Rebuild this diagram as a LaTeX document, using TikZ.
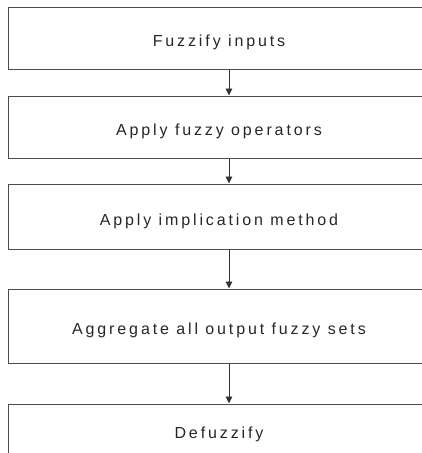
\documentclass[tikz,border=0pt]{standalone}
\usepackage{fontspec}
\setmainfont{Liberation Sans}[LetterSpace=18]
\usepackage{tikz}
\usetikzlibrary{positioning, arrows.meta}

\tikzset{
  stage/.style={draw=black!70, line width=1pt, inner sep=0pt,
    minimum width=422pt, text height=17pt, text depth=0pt,
    font=\fontsize{16}{19}\selectfont, text=black!85},
  flow/.style={-{Triangle[width=6.5pt,length=7pt]}, line width=0.9pt, draw=black!80}
}

\begin{document}
\begin{tikzpicture}[x=1pt,y=-1pt]
    \useasboundingbox (0,0) rectangle (422,453);
    \clip (0,0) rectangle (422,453);

    % inference steps, top to bottom
    \node[stage, minimum height=62pt] (fuzz) at (219,38)    {Fuzzify inputs};
    \node[stage, minimum height=62pt] (ops)  at (219,127)   {Apply fuzzy operators};
    \node[stage, minimum height=65pt] (impl) at (219,216.5) {Apply implication method};
    \node[stage, minimum height=74pt] (agg)  at (219,326)   {Aggregate all output fuzzy sets};
    \node[stage, minimum height=52pt] (defz) at (219,430)   {Defuzzify};

    \draw[flow] ([xshift=10pt]fuzz.south) -- ([xshift=10pt]ops.north);
    \draw[flow] ([xshift=10pt]ops.south)  -- ([xshift=10pt]impl.north);
    \draw[flow] ([xshift=10pt]impl.south) -- ([xshift=10pt]agg.north);
    \draw[flow] ([xshift=10pt]agg.south)  -- ([xshift=10pt]defz.north);
\end{tikzpicture}
\end{document}
